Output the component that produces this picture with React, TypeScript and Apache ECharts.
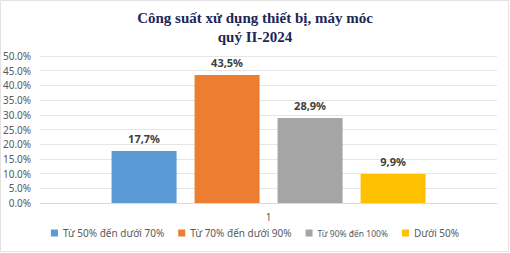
import React, { useEffect, useRef } from "react";
import * as echarts from "echarts";

const titleLines = ["Công suất xử dụng thiết bị, máy móc", "quý II-2024"];
const categories = ["1"];
const seriesNames = ["Từ 50% đến dưới 70%", "Từ 70% đến dưới 90%", "Từ 90% đến 100%", "Dưới 50%"];
const seriesValues = [17.7, 43.5, 28.9, 9.9];
const seriesColors = ["#5B9BD5", "#ED7D31", "#A5A5A5", "#FFC000"];
const yMin = 0;
const yMax = 50;
const yInterval = 5;

export default function App() {
  const ref = useRef<HTMLDivElement>(null);
  useEffect(() => {
    if (!ref.current) return;
    const chart = echarts.init(ref.current, null, { renderer: "svg" });
    chart.setOption({
      animation: false,
      backgroundColor: "#ffffff",
      graphic: [
        {
          type: "rect",
          shape: { x: 0.5, y: 0.5, width: 508, height: 251 },
          style: { fill: "none", stroke: "#e3e3e3", lineWidth: 1 },
          silent: true,
        },
      ],
      title: {
        text: titleLines.join("\n"),
        left: "center",
        top: 3,
        textStyle: {
          fontFamily: "Liberation Serif",
          fontWeight: "bold",
          fontSize: 15,
          lineHeight: 19,
          color: "#1C2756",
        },
      },
      legend: {
        bottom: 10,
        left: "center",
        icon: "rect",
        itemWidth: 7,
        itemHeight: 7,
        itemGap: 14,
        textStyle: {
          fontFamily: "Noto Sans",
          fontSize: 10,
          color: "#595959",
          rich: { s: { fontFamily: "Noto Sans", fontSize: 8.5, color: "#595959" } },
        },
        formatter: (name: string) => (name === seriesNames[2] ? `{s|${name}}` : name),
        data: seriesNames,
      },
      grid: { left: 40, right: 13, top: 56, bottom: 50, containLabel: false },
      xAxis: {
        type: "category",
        data: categories,
        axisLine: { lineStyle: { color: "#d9d9d9" } },
        axisTick: { show: false },
        axisLabel: { color: "#595959", fontSize: 10, fontFamily: "Noto Sans", margin: 9 },
      },
      yAxis: {
        type: "value",
        min: yMin,
        max: yMax,
        interval: yInterval,
        axisLine: { show: false },
        axisTick: { show: false },
        splitLine: { lineStyle: { color: "#e6e6e6" } },
        axisLabel: {
          color: "#595959",
          fontSize: 10,
          fontFamily: "Noto Sans",
          margin: 9,
          formatter: (v: number) => v.toFixed(1) + "%",
        },
      },
      series: seriesNames.map((name, i) => ({
        type: "bar",
        name,
        data: [seriesValues[i]],
        barWidth: 65,
        barGap: "27.7%",
        itemStyle: { color: seriesColors[i] },
        label: {
          show: true,
          position: "top",
          distance: 7,
          color: "#404040",
          fontSize: 11,
          fontWeight: "bold",
          fontFamily: "Noto Sans",
          formatter: (p: any) => p.value.toFixed(1).replace(".", ",") + "%",
        },
      })),
    });
    return () => chart.dispose();
  }, []);
  return <div ref={ref} style={{ width: 510, height: 253, position: "absolute", left: 0, top: 0 }} />;
}
